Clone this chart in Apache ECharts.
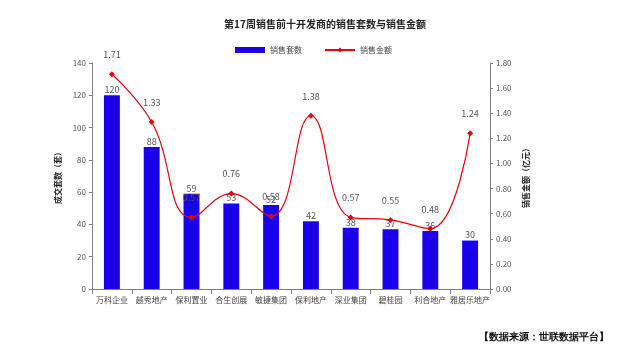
<!DOCTYPE html>
<html><head><meta charset="utf-8">
<script src="https://cdn.jsdelivr.net/npm/echarts@6/dist/echarts.min.js"></script>
<style>html,body{margin:0;padding:0;background:#fff}#c{width:627px;height:355px}</style>
</head><body><div id="c"></div>
<script>
const categories = ['万科企业','越秀地产','保利置业','合生创展','敏捷集团','保利地产','深业集团','碧桂园','利合地产','雅居乐地产'];
const unitsSold = [120, 88, 59, 53, 52, 42, 38, 37, 36, 30];
const salesAmount = [1.71, 1.33, 0.57, 0.76, 0.58, 1.38, 0.57, 0.55, 0.48, 1.24];
const leftTicks = [0, 140, 20];
const rightTicks = [0, 1.8, 0.2];

const chart = echarts.init(document.getElementById('c'), null, {renderer:'canvas'});
const font = '"Noto Sans CJK SC", sans-serif';
const axisLineStyle = {show:true, lineStyle:{color:'#808080', width:1}};
chart.setOption({
  animation:false,
  textStyle:{fontFamily:font},
  title:{text:'第17周销售前十开发商的销售套数与销售金额', left:320, top:14, textAlign:'center',
    textStyle:{fontSize:10, fontWeight:'bold', color:'#222', fontFamily:font}},
  legend:{top:41, left:'center', itemGap:22, itemWidth:30, itemHeight:6,
    textStyle:{fontSize:8, color:'#444'},
    data:[{name:'销售套数', icon:'rect'},{name:'销售金额'}]},
  graphic:[{type:'text', right:18, top:332, style:{text:'【数据来源：世联数据平台】', fontSize:10, fontWeight:'bold', fill:'#111', font:'bold 10px "Noto Sans CJK SC"'}}],
  grid:{left:92, right:137, top:63, bottom:66},
  xAxis:{type:'category', data:categories, axisLine:axisLineStyle,
    axisTick:{show:true, alignWithLabel:false, lineStyle:{color:'#808080'}},
    axisLabel:{fontSize:8, color:'#444', margin:7, interval:0}},
  yAxis:[
    {type:'value', min:leftTicks[0], max:leftTicks[1], interval:leftTicks[2],
     name:'成交套数（套）', nameLocation:'middle', nameGap:25, nameRotate:90,
     nameTextStyle:{fontSize:8, fontWeight:'bold', color:'#222'},
     axisLine:axisLineStyle, axisTick:{show:true, length:3, lineStyle:{color:'#808080'}},
     axisLabel:{fontSize:8, color:'#555', margin:6}, splitLine:{show:false}},
    {type:'value', min:rightTicks[0], max:rightTicks[1], interval:rightTicks[2],
     name:'销售金额（亿元）', nameLocation:'middle', nameGap:32, nameRotate:90,
     nameTextStyle:{fontSize:8, fontWeight:'bold', color:'#222'},
     axisLine:axisLineStyle, axisTick:{show:true, length:3, lineStyle:{color:'#808080'}},
     axisLabel:{fontSize:8, color:'#555', margin:6, formatter:v=>v.toFixed(2)}, splitLine:{show:false}}
  ],
  series:[
    {name:'销售套数', type:'bar', data:unitsSold, barWidth:'40%', yAxisIndex:0,
     itemStyle:{color:'#1a00e8'},
     label:{show:true, position:'top', distance:1, fontSize:9, color:'#555'}},
    {name:'销售金额', type:'line', data:salesAmount, yAxisIndex:1, smooth:0.45,
     lineStyle:{color:'#e8000b', width:1.2}, itemStyle:{color:'#e8000b'},
     symbol:'diamond', symbolSize:6,
     label:{show:true, position:'top', distance:12, fontSize:9, color:'#555', formatter:p=>p.value.toFixed(2)}}
  ]
});
</script></body></html>
